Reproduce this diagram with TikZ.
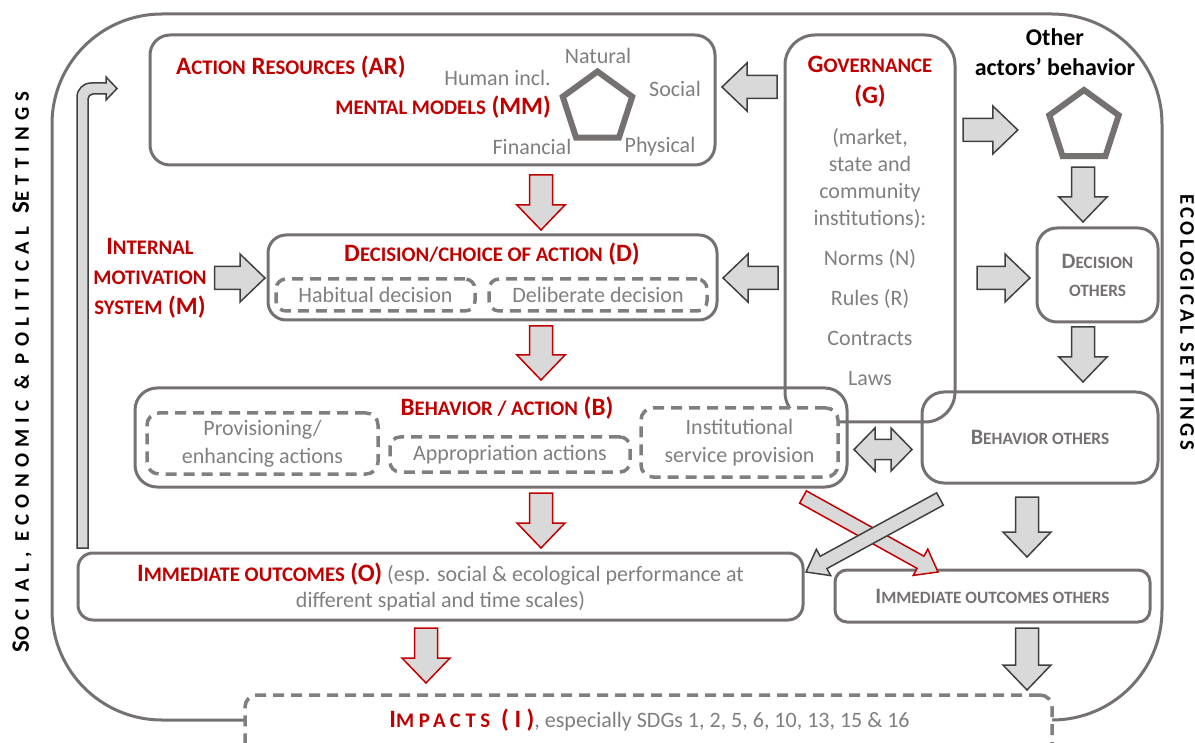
\documentclass[tikz,border=0pt]{standalone}
\usepackage{fontspec}
\setmainfont{Carlito}
\usepackage{relsize}
\usetikzlibrary{calc,shapes.geometric}
\definecolor{frameg}{HTML}{767171}
\definecolor{titlered}{HTML}{C00000}
\definecolor{textg}{HTML}{7F7F7F}
\definecolor{arrfill}{HTML}{D9D9D9}
\definecolor{arrdark}{HTML}{404040}

% fake small caps
\newcommand{\sm}[1]{\textscale{0.82}{\MakeUppercase{#1}}}
% block arrows: half shaft, half head, head length
\newcommand{\bsw}{11.5pt}
\newcommand{\bhw}{24pt}
\newcommand{\bhl}{25pt}
\newcommand{\barrow}[3][grayarr]{%
  \coordinate (bt) at (#2); \coordinate (bp) at (#3);
  \coordinate (ba) at ($(bp)!\bhl!(bt)$);
  \draw[#1] ($(bt)!\bsw!90:(bp)$) -- ($(ba)!\bsw!-90:(bt)$) -- ($(ba)!\bhw!-90:(bt)$) -- (bp)
    -- ($(ba)!\bhw!90:(bt)$) -- ($(ba)!\bsw!90:(bt)$) -- ($(bt)!\bsw!-90:(bp)$) -- cycle;}
\newcommand{\dbarrow}[3][grayarr]{%
  \coordinate (bt) at (#2); \coordinate (bp) at (#3);
  \coordinate (ba) at ($(bt)!\bhl!(bp)$); \coordinate (bb) at ($(bp)!\bhl!(bt)$);
  \draw[#1] (bt) -- ($(ba)!\bhw!90:(bp)$) -- ($(ba)!\bsw!90:(bp)$) -- ($(bb)!\bsw!-90:(bt)$)
    -- ($(bb)!\bhw!-90:(bt)$) -- (bp) -- ($(bb)!\bhw!90:(bt)$) -- ($(bb)!\bsw!90:(bt)$)
    -- ($(ba)!\bsw!-90:(bp)$) -- ($(ba)!\bhw!-90:(bp)$) -- cycle;}

\begin{document}
\begin{tikzpicture}[x=1pt, y=-1pt,
    box/.style={draw=frameg, line width=3pt, rounded corners=#1, inner sep=0pt, outer sep=0pt},
    box/.default=20pt,
    subbox/.style={draw=textg, line width=3.5pt, dash pattern=on 11pt off 7pt, rounded corners=10pt,
      inner sep=0pt, outer sep=0pt, text=textg, align=center, font=\fontsize{22}{28}\selectfont},
    lbl/.style={inner sep=0pt, text=textg, font=\fontsize{22}{27}\selectfont},
    ttl/.style={inner sep=0pt, text=titlered, font=\fontsize{25}{30}\selectfont\bfseries},
    oth/.style={text=frameg, align=center, font=\fontsize{22}{28}\selectfont\bfseries},
    pent/.style={regular polygon, regular polygon sides=5, draw=frameg, line width=6pt,
      minimum size=73pt, inner sep=0pt},
    grayarr/.style={draw=arrdark, fill=arrfill, line width=1.5pt},
    redarr/.style={draw=titlered, fill=arrfill, line width=1.5pt},
    sideL/.style={inner sep=0pt, font=\fontsize{25}{25}\selectfont\bfseries\addfontfeatures{LetterSpace=30}},
    sideR/.style={inner sep=0pt, font=\fontsize{25}{25}\selectfont\bfseries\addfontfeatures{LetterSpace=17}}
]
    \useasboundingbox (0,0) rectangle (1195,743);
    \clip (0,0) rectangle (1195,743);
    \coordinate (cA) at (541,0);
    \coordinate (cB) at (1083,0);
    \coordinate (cC) at (1027,0);
    \coordinate (cD) at (426,0);
    \coordinate (rA) at (0,87);
    \coordinate (rB) at (0,130);
    \coordinate (rD) at (0,278);
    \coordinate (rE) at (0,449.5);

    % settings frame
    \draw[frameg, line width=3pt, rounded corners=110pt] (52,14) rectangle (1162,720);
    \node[sideL, rotate=90] (socset) at (22,372) {S\sm{ocial, economic \& political} S\sm{ettings}};
    \node[sideR, rotate=-90] (ecoset) at (1187,322) {\sm{ecological settings}};

    % action resources
    \node[box, minimum width=565pt, minimum height=130pt] (ar) at (432.5,100) {};
    \node[ttl, anchor=west] (artitle) at (176,67) {A\sm{ction} R\sm{esources} (AR)};
    \node[lbl, anchor=east] (human) at (551,78) {Human incl.};
    \node[ttl, anchor=east] (mm) at (551,107) {\sm{mental models} (MM)};
    \node[pent] (cap) at (597.5,108) {};
    \node[lbl] (natural) at (598,56) {Natural};
    \node[lbl] (social) at (675,89) {Social};
    \node[lbl] (financial) at (532,147) {Financial};
    \node[lbl] (physical) at (660,147) {Physical};

    % governance
    \node[box=30pt, minimum width=170pt, minimum height=387pt] (gov) at (870,228.5) {};
    \node[ttl, align=center, font=\fontsize{25}{31}\selectfont\bfseries] (govtitle) at (870,81.5) {G\sm{overnance}\\(G)};
    \node[lbl, align=center] (govtxt) at (870,178) {(market,\\state and\\community\\institutions):};
    \node[lbl, align=center, font=\fontsize{22}{40}\selectfont] (govlist) at (870,318) {Norms (N)\\Rules (R)\\Contracts\\Laws};

    % decision
    \node[box=18pt, minimum width=449pt, minimum height=85pt] (dec) at (492.5,277.5) {};
    \node[ttl] (dectitle) at (492,254) {D\sm{ecision/choice of action} (D)};
    \node[subbox, minimum width=199pt, minimum height=32pt] (habit) at (375.5,295) {Habitual decision};
    \node[subbox, minimum width=218pt, minimum height=32pt] (delib) at (598,295) {Deliberate decision};
    \node[ttl, align=center] (motiv) at (150,278) {I\sm{nternal}\\\sm{motivation}\\\sm{system} (M)};

    % behavior
    \node[box=22pt, minimum width=712pt, minimum height=99pt] (beh) at (491,437.5) {};
    \node[ttl] (behtitle) at (507,408) {B\sm{ehavior / action} (B)};
    \node[subbox, rounded corners=12pt, minimum width=231pt, minimum height=61pt] (prov) at (262.5,443.5) {Provisioning/\\enhancing actions};
    \node[subbox, minimum width=240pt, minimum height=35pt] (appr) at (510,454.5) {Appropriation actions};
    \node[subbox, fill=white, rounded corners=12pt, minimum width=197pt, minimum height=69pt] (inst) at (739.5,442.5) {Institutional\\service provision};

    % outcomes
    \node[box=15pt, minimum width=725pt, minimum height=67pt, text=textg, align=center,
      font=\fontsize{22}{26}\selectfont] (out) at (440.5,586.5)
      {{\fontsize{25}{26}\selectfont\bfseries\color{titlered}I\sm{mmediate outcomes} (O)} (esp. social \& ecological performance at\\different spatial and time scales)};

    % other actors
    \node[lbl, align=center, text=black, font=\fontsize{24}{30}\selectfont\bfseries] (othtitle) at (1055,52) {Other\\actors’ behavior};
    \node[pent] (ocap) at (1084,126.5) {};
    \node[box, oth, minimum width=121pt, minimum height=94pt] (deco) at (1097.5,275) {D\sm{ecision}\\\sm{others}};
    \node[box=22pt, oth, minimum width=236pt, minimum height=91pt] (beho) at (1040,437.5) {B\sm{ehavior others}};
    \node[box=12pt, oth, minimum width=315pt, minimum height=52pt] (outo) at (992.5,596) {I\sm{mmediate outcomes others}};

    % impacts
    \node[subbox, fill=white, rounded corners=12pt, minimum width=807pt, minimum height=100pt] (imp) at (648.5,745) {};
    \node[lbl] (imptxt) at (649.5,720) {{\fontsize{25}{26}\selectfont\bfseries\addfontfeatures{LetterSpace=22}\color{titlered}I\sm{mpacts} (I)}, especially SDGs 1, 2, 5, 6, 10, 13, 15 \& 16};

    % block arrows
    \barrow{$(gov.west |- rA)+(-8,0)$}{$(ar.east |- rA)+(7,0)$}
    \barrow{$(gov.west |- rD)+(-7,0)$}{$(dec.east |- rD)+(6,0)$}
    \barrow{$(motiv.east |- rD)+(8,0)$}{$(dec.west |- rD)+(-3,0)$}
    \barrow[redarr]{$(ar.south -| cA)+(0,10)$}{$(dec.north -| cA)+(0,-5)$}
    \barrow[redarr]{$(dec.south -| cA)+(0,6)$}{$(beh.north -| cA)+(0,-8)$}
    \barrow[redarr]{$(beh.south -| cA)+(0,6)$}{$(out.north -| cA)+(0,-5)$}
    \barrow[redarr]{$(out.south -| cD)+(0,8)$}{$(imp.north -| cD)+(0,-12)$}
    \barrow{$(gov.east |- rB)+(8,0)$}{$(ocap.west |- rB)+(-32,0)$}
    \barrow{$(ocap.south -| cB)+(0,8)$}{$(deco.north -| cB)+(0,-6)$}
    \barrow{$(gov.east |- rD)+(22,0)$}{$(deco.west |- rD)+(-7,0)$}
    \barrow{$(deco.south -| cB)+(0,5)$}{$(beho.north -| cB)+(0,-10)$}
    \barrow{$(beho.south -| cC)+(0,14)$}{$(outo.north -| cC)+(0,-13)$}
    \barrow{$(outo.south -| cC)+(0,6)$}{$(imp.north -| cC)+(0,-5)$}
    \begin{scope}
      \renewcommand{\bsw}{7pt}\renewcommand{\bhw}{15pt}\renewcommand{\bhl}{20pt}
      \barrow[redarr]{$(beh.south east)+(-44,10)$}{$(outo.north west)+(103,2)$}
      \barrow{$(beho.south west)+(18,16)$}{$(out.north east)+(3,19)$}
      \renewcommand{\bsw}{10pt}\renewcommand{\bhw}{21.5pt}\renewcommand{\bhl}{21pt}
      \dbarrow{$(beh.east |- rE)+(7,0)$}{$(beho.west |- rE)+(-10,0)$}
    \end{scope}

    % feedback from outcomes to resources
    \draw[grayarr] ($(out.north west)+(-1,-5)$) -- ++(0,-451) arc[start angle=180, end angle=90, radius=14pt]
      -- ++(15,0) -- ++(0,-6) -- ++(11,11.5) -- ++(-11,11.5) -- ++(0,-6) -- ++(-13,0)
      arc[start angle=90, end angle=180, radius=5pt] -- ++(0,449) -- cycle;
\end{tikzpicture}
\end{document}
